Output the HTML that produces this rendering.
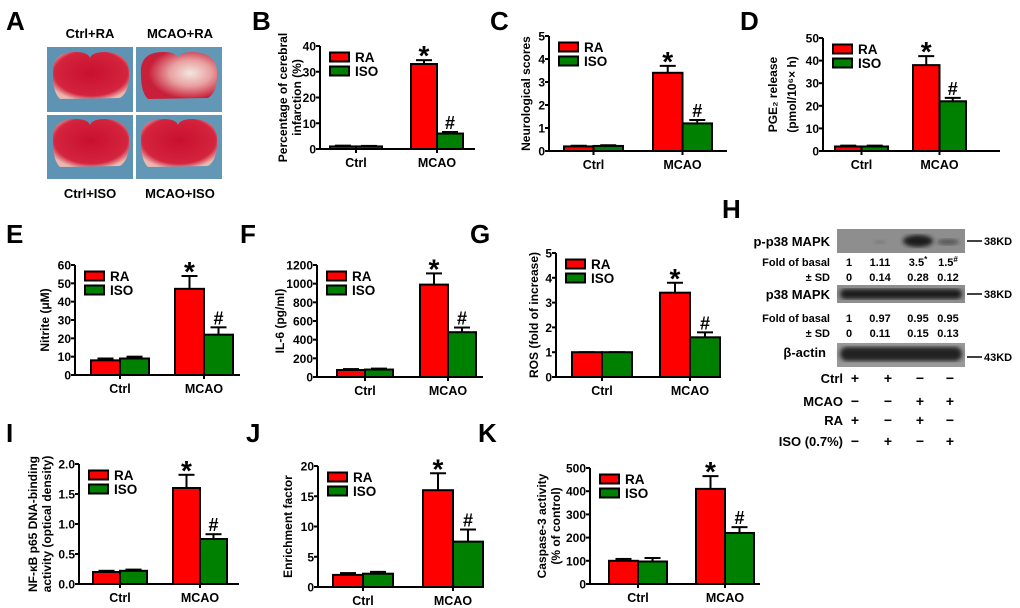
<!DOCTYPE html>
<html><head><meta charset="utf-8"><style>
body{margin:0;background:#fff;}
svg{display:block;font-family:"Liberation Sans",Arial,sans-serif;font-weight:bold;}
</style></head><body>
<svg id="fig" width="1020" height="608" viewBox="0 0 1020 608" xmlns="http://www.w3.org/2000/svg">
<defs>
<radialGradient id="brainRed" cx="50%" cy="45%" r="60%"><stop offset="0" stop-color="#c8102e"/><stop offset="0.8" stop-color="#d4243e"/><stop offset="1" stop-color="#e9b8b0"/></radialGradient>
<radialGradient id="brainInf" cx="65%" cy="45%" r="55%"><stop offset="0" stop-color="#f3e6e0"/><stop offset="0.5" stop-color="#e8a0a0"/><stop offset="1" stop-color="#c8203a"/></radialGradient>
<filter id="blur"><feGaussianBlur stdDeviation="2"/></filter>
</defs>
<g id="panelA">
<text x="6" y="30" font-size="26">A</text>
<text x="90" y="38" font-size="13" text-anchor="middle">Ctrl+RA</text>
<text x="180" y="38" font-size="13" text-anchor="middle">MCAO+RA</text>
<text x="90" y="198" font-size="13" text-anchor="middle">Ctrl+ISO</text>
<text x="180" y="198" font-size="13" text-anchor="middle">MCAO+ISO</text>
<rect x="47" y="47" width="86" height="65" fill="#5f93b4"/>
<rect x="136" y="47" width="86" height="65" fill="#6297b6"/>
<rect x="47" y="115" width="86" height="64" fill="#5f93b4"/>
<rect x="136" y="115" width="86" height="64" fill="#6297b6"/>
<path d="M53 68 Q55 52 75 52 Q88 52 90 58 Q92 52 105 52 Q127 53 129 70 Q130 92 120 98 L60 99 Q52 92 53 68Z" fill="url(#brainRed)"/>
<path d="M141 68 Q143 52 163 52 Q176 52 178 58 Q180 52 193 52 Q215 53 217 70 Q218 92 208 98 L148 99 Q140 92 141 68Z" fill="url(#brainInf)"/>
<path d="M53 135 Q55 119 75 119 Q88 119 90 125 Q92 119 105 119 Q127 120 129 137 Q130 160 120 166 L60 167 Q52 160 53 135Z" fill="url(#brainRed)"/>
<path d="M141 135 Q143 119 163 119 Q176 119 178 125 Q180 119 193 119 Q215 120 217 137 Q218 160 208 166 L148 167 Q140 160 141 135Z" fill="url(#brainRed)"/>
</g>
<g id="panelH">
<text x="722" y="218" font-size="26">H</text>
<rect x="837" y="229" width="128" height="24" fill="#8e8e8e"/>
<ellipse cx="918" cy="241" rx="15" ry="6" fill="#1a1a1a" filter="url(#blur)"/>
<ellipse cx="948" cy="242" rx="11" ry="3" fill="#555" filter="url(#blur)"/>
<ellipse cx="880" cy="242" rx="6" ry="2" fill="#7a7a7a" filter="url(#blur)"/>
<rect x="837" y="285" width="128" height="18" fill="#8e8e8e"/>
<rect x="840" y="289" width="122" height="10" rx="5" fill="#1e1e1e" filter="url(#blur)"/>
<rect x="837" y="343" width="128" height="24" fill="#999"/>
<rect x="840" y="347" width="122" height="14" rx="7" fill="#222" filter="url(#blur)"/>
<g font-size="13" text-anchor="end">
<text x="830" y="246">p-p38 MAPK</text>
<text x="830" y="299">p38 MAPK</text>
<text x="826" y="357">β-actin</text>
</g>
<g font-size="11" text-anchor="end">
<text x="830" y="266">Fold of basal</text><text x="830" y="281">± SD</text>
<text x="830" y="322">Fold of basal</text><text x="830" y="337">± SD</text>
</g>
<g font-size="11" text-anchor="middle" id="hnums"></g>
<g stroke="#000" stroke-width="1.5"><line x1="967" y1="241" x2="982" y2="241"/><line x1="967" y1="294" x2="982" y2="294"/><line x1="967" y1="357" x2="982" y2="357"/></g>
<g font-size="11"><text x="984" y="245">38KD</text><text x="984" y="298">38KD</text><text x="984" y="361">43KD</text></g>
<g font-size="13" text-anchor="end">
<text x="843" y="383">Ctrl</text><text x="843" y="406">MCAO</text><text x="843" y="425">RA</text><text x="843" y="446">ISO (0.7%)</text>
</g>
<g font-size="14" text-anchor="middle" id="hsigns"></g>
</g>
<g id="charts"></g>
</svg>
<script>
const categories = ['Ctrl', 'MCAO'];
const B_ra = [1, 33], B_raErr = [0.3, 1.5], B_iso = [1, 6], B_isoErr = [0.2, 0.6], B_ticks = [0, 10, 20, 30, 40];
const C_ra = [0.2, 3.4], C_raErr = [0.03, 0.3], C_iso = [0.22, 1.2], C_isoErr = [0.03, 0.15], C_ticks = [0, 1, 2, 3, 4, 5];
const D_ra = [2, 38], D_raErr = [0.4, 4], D_iso = [2, 22], D_isoErr = [0.4, 1.5], D_ticks = [0, 10, 20, 30, 40, 50];
const E_ra = [8, 47], E_raErr = [1, 7], E_iso = [9, 22], E_isoErr = [1, 4], E_ticks = [0, 10, 20, 30, 40, 50, 60];
const F_ra = [75, 990], F_raErr = [10, 120], F_iso = [80, 480], F_isoErr = [10, 50], F_ticks = [0, 200, 400, 600, 800, 1000, 1200];
const G_ra = [1, 3.4], G_raErr = [0, 0.4], G_iso = [1, 1.6], G_isoErr = [0, 0.2], G_ticks = [0, 1, 2, 3, 4, 5];
const I_ra = [0.2, 1.6], I_raErr = [0.02, 0.22], I_iso = [0.22, 0.75], I_isoErr = [0.02, 0.08], I_ticks = [0, 0.5, 1, 1.5, 2], I_tickLabels = ['0.0', '0.5', '1.0', '1.5', '2.0'];
const J_ra = [2, 16], J_raErr = [0.3, 2.8], J_iso = [2.2, 7.5], J_isoErr = [0.3, 2], J_ticks = [0, 5, 10, 15, 20];
const K_ra = [100, 410], K_raErr = [8, 55], K_iso = [97, 220], K_isoErr = [15, 25], K_ticks = [0, 100, 200, 300, 400, 500];
const H_foldP = ['1', '1.11', '3.5*', '1.5#'], H_sdP = ['0', '0.14', '0.28', '0.12'];
const H_foldT = ['1', '0.97', '0.95', '0.95'], H_sdT = ['0', '0.11', '0.15', '0.13'];
const H_ctrl = ['+', '+', '−', '−'], H_mcao = ['−', '−', '+', '+'], H_raRow = ['+', '−', '+', '−'], H_isoRow = ['−', '+', '−', '+'];

const NS = 'http://www.w3.org/2000/svg';
function mk(parent, tag, attrs, text) {
  const e = document.createElementNS(NS, tag);
  for (const k in attrs) e.setAttribute(k, attrs[k]);
  if (text !== undefined) e.textContent = text;
  parent.appendChild(e); return e;
}
const hn = document.getElementById('hnums');
const hx = [849, 880, 918, 948];
[[H_foldP, 266], [H_sdP, 281], [H_foldT, 322], [H_sdT, 337]].forEach(([arr, y]) => {
  arr.forEach((v, i) => {
    const t = mk(hn, 'text', {x: hx[i], y: y});
    
    
    const m = v.match(/^([\d.]+)([*#]?)$/);
    t.textContent = m[1];
    if (m[2]) mk(t, 'tspan', {dy: -4, 'font-size': 8}, m[2]);
  });
});
const hs = document.getElementById('hsigns');
const sx = [855, 888, 920, 950];
[[H_ctrl, 383], [H_mcao, 406], [H_raRow, 425], [H_isoRow, 446]].forEach(([arr, y]) => {
  arr.forEach((v, i) => {
    const t = mk(hs, 'text', {x: sx[i], y: y}, v);
    
    
  });
});

const panels = [
  {id:'b', letter:'B', lx:252, ly:30, ax:320, yt:46, yb:149, xe:475, c0:10, m0:91, bw:26, ra:B_ra, raE:B_raErr, iso:B_iso, isoE:B_isoErr, ticks:B_ticks, ylab:['Percentage of cerebral','infarction (%)'], ylx:[284,298]},
  {id:'c', letter:'C', lx:490, ly:30, ax:549, yt:36, yb:151, xe:727, c0:15, m0:104, bw:29.5, ra:C_ra, raE:C_raErr, iso:C_iso, isoE:C_isoErr, ticks:C_ticks, ylab:['Neurological scores'], ylx:[527]},
  {id:'d', letter:'D', lx:740, ly:30, ax:823, yt:38, yb:151, xe:1000, c0:12, m0:90, bw:26.5, ra:D_ra, raE:D_raErr, iso:D_iso, isoE:D_isoErr, ticks:D_ticks, ylab:['PGE₂ release','(pmol/10⁶× h)'], ylx:[774,793]},
  {id:'e', letter:'E', lx:6, ly:243, ax:75, yt:265, yb:375, xe:240, c0:16, m0:100, bw:29, ra:E_ra, raE:E_raErr, iso:E_iso, isoE:E_isoErr, ticks:E_ticks, ylab:['Nitrite (μM)'], ylx:[46]},
  {id:'f', letter:'F', lx:240, ly:243, ax:317, yt:265, yb:377, xe:483, c0:20, m0:103, bw:28, ra:F_ra, raE:F_raErr, iso:F_iso, isoE:F_isoErr, ticks:F_ticks, ylab:['IL-6 (pg/ml)'], ylx:[281]},
  {id:'g', letter:'G', lx:470, ly:243, ax:556, yt:253, yb:377, xe:720, c0:16, m0:104, bw:30, ra:G_ra, raE:G_raErr, iso:G_iso, isoE:G_isoErr, ticks:G_ticks, ylab:['ROS (fold of increase)'], ylx:[535]},
  {id:'i', letter:'I', lx:6, ly:442, ax:79, yt:464, yb:584, xe:239, c0:14, m0:94, bw:27, ra:I_ra, raE:I_raErr, iso:I_iso, isoE:I_isoErr, ticks:I_ticks, tickLabels:I_tickLabels, ylab:['NF-κB  p65 DNA-binding','activity (optical density)'], ylx:[34,48]},
  {id:'j', letter:'J', lx:246, ly:442, ax:318, yt:466, yb:587, xe:483, c0:15, m0:105, bw:30, ra:J_ra, raE:J_raErr, iso:J_iso, isoE:J_isoErr, ticks:J_ticks, ylab:['Enrichment factor'], ylx:[289]},
  {id:'k', letter:'K', lx:478, ly:442, ax:590, yt:468, yb:584, xe:760, c0:19, m0:106, bw:29, ra:K_ra, raE:K_raErr, iso:K_iso, isoE:K_isoErr, ticks:K_ticks, ylab:['Caspase-3 activity','(% of control)'], ylx:[543,557]}
];

const root = document.getElementById('charts');
panels.forEach(p => {
  const g = mk(root, 'g', {});
  
  
  const letter = mk(g, 'text', {x: p.lx, y: p.ly, 'font-size': 26}, p.letter);
  
  
  const ymax = p.ticks[p.ticks.length - 1];
  const y = v => p.yb - (v / ymax) * (p.yb - p.yt);
  const groupX = [p.ax + p.c0, p.ax + p.m0];
  const series = [[p.ra, p.raE, '#ff0000', 'ra'], [p.iso, p.isoE, '#008000', 'iso']];
  series.forEach(([vals, errs, col, nm], si) => {
    vals.forEach((v, ci) => {
      const x = groupX[ci] + si * p.bw;
      const top = y(v), et = y(v + errs[ci]);
      const cx = x + p.bw / 2;
      const el = mk(g, 'line', {x1: cx, x2: cx, y1: top, y2: et, stroke: '#000', 'stroke-width': 2});
      
      
      const cap = mk(g, 'line', {x1: cx - 8, x2: cx + 8, y1: et, y2: et, stroke: '#000', 'stroke-width': 2});
      
      
      const r = mk(g, 'rect', {x: x, y: top, width: p.bw, height: p.yb - top, fill: col, stroke: '#000', 'stroke-width': 2});
      
      
      if (ci === 1) {
        const s = mk(g, 'text', {x: cx, y: si === 0 ? et + 5 : et - 3, 'font-size': si === 0 ? 28 : 18, 'text-anchor': 'middle'}, si === 0 ? '*' : '#');
        
        
      }
    });
  });
  const ya = mk(g, 'line', {x1: p.ax, x2: p.ax, y1: p.yt, y2: p.yb, stroke: '#000', 'stroke-width': 2});
  
  
  const xa = mk(g, 'line', {x1: p.ax, x2: p.xe, y1: p.yb, y2: p.yb, stroke: '#000', 'stroke-width': 2});
  
  
  p.ticks.forEach((t, i) => {
    const ty = y(t);
    mk(g, 'line', {x1: p.ax - 4, x2: p.ax, y1: ty, y2: ty, stroke: '#000', 'stroke-width': 2});
    const tl = mk(g, 'text', {x: p.ax - 4, y: ty + 4.5, 'font-size': 12, 'text-anchor': 'end'}, p.tickLabels ? p.tickLabels[i] : String(t));
    
    
  });
  categories.forEach((c, ci) => {
    const cx = groupX[ci] + p.bw;
    mk(g, 'line', {x1: cx, x2: cx, y1: p.yb, y2: p.yb + 4, stroke: '#000', 'stroke-width': 2});
    const cl = mk(g, 'text', {x: cx, y: p.yb + 18, 'font-size': 12.5, 'text-anchor': 'middle'}, c);
    
    
  });
  const ymid = (p.yt + p.yb) / 2;
  p.ylab.forEach((l, i) => {
    const t = mk(g, 'text', {x: p.ylx[i], y: ymid, 'font-size': 12, 'text-anchor': 'middle', transform: 'rotate(-90 ' + p.ylx[i] + ' ' + ymid + ')', 'dominant-baseline': 'middle'}, l);
    
    
  });
  [['RA', '#ff0000', 11], ['ISO', '#008000', 25]].forEach(([n, col, dy]) => {
    const lr = mk(g, 'rect', {x: p.ax + 10, y: p.yt + dy - 4.5, width: 19, height: 9, fill: col, stroke: '#000', 'stroke-width': 2});
    
    
    const lt = mk(g, 'text', {x: p.ax + 35, y: p.yt + dy + 5, 'font-size': 13.5}, n);
    
    
  });
});
</script>
</body></html>
